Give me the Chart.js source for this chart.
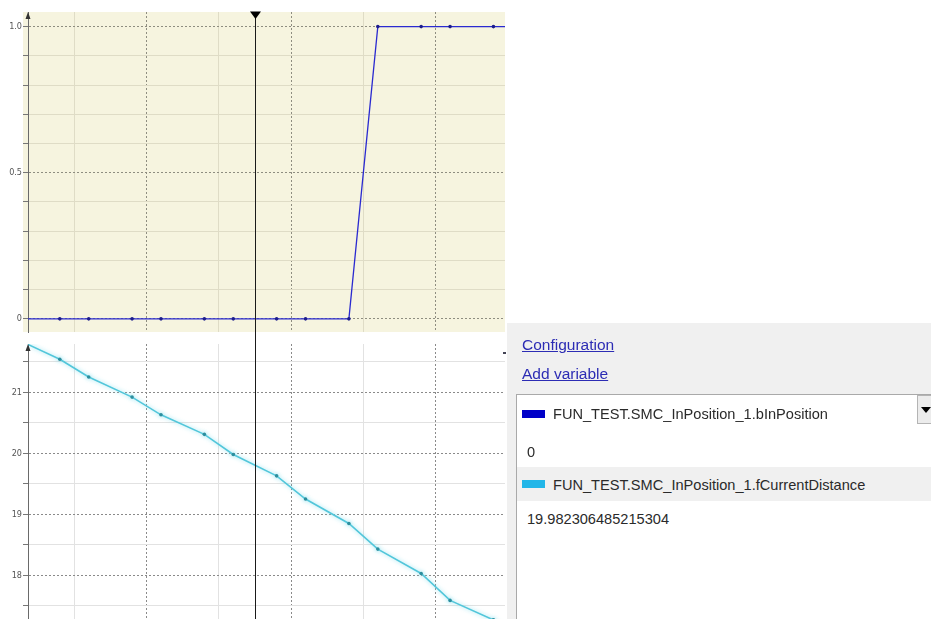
<!DOCTYPE html>
<html>
<head>
<meta charset="utf-8">
<script src="https://cdn.jsdelivr.net/npm/chart.js@4.4.0/dist/chart.umd.min.js"></script>
<style>
  html, body { margin: 0; padding: 0; background: #fff; width: 931px; height: 619px; overflow: hidden; }
  body { font-family: "Liberation Sans", Arial, sans-serif; }
  canvas { position: absolute; left: 0; }
  #topChart { top: 0; }
  #bottomChart { top: 333px; }
  .abs { position: absolute; }
  #panel { left: 507px; top: 323px; width: 424px; height: 296px; background: #f0f0f0; }
  .link { font-size: 15.5px; line-height: 20px; color: #2c2cb4; text-decoration: underline; white-space: nowrap; }
  #list { left: 516px; top: 394px; width: 430px; height: 240px; background: #fff; border: 1px solid #a9a9a9; }
  #rowhl { left: 517px; top: 467px; width: 420px; height: 34px; background: #f0f0f0; }
  .sw { width: 23px; height: 8px; }
  .txt { font-size: 14.6px; line-height: 20px; color: #2a2a2a; white-space: nowrap; }
  #drop { left: 917px; top: 395px; width: 18px; height: 27px; background: #ececec; border: 1px solid #b4b4b4; }
  #dropArrow { left: 921px; top: 407px; width: 0; height: 0; border-left: 5px solid transparent; border-right: 5px solid transparent; border-top: 6px solid #000; }
</style>
</head>
<body>
<canvas id="topChart" width="505" height="333"></canvas>
<canvas id="bottomChart" width="505" height="286"></canvas>

<div id="panel" class="abs"></div>
<div class="abs" style="left:503px;top:352px;width:3px;height:2px;background:#445"></div>
<div class="abs link" style="left:522px;top:335px">Configuration</div>
<div class="abs link" style="left:522px;top:364px">Add variable</div>
<div id="list" class="abs"></div>
<div id="rowhl" class="abs"></div>
<div class="abs sw" style="left:522px;top:410px;background:#0000c8"></div>
<div class="abs txt" style="left:553px;top:404px">FUN_TEST.SMC_InPosition_1.bInPosition</div>
<div class="abs txt" style="left:527px;top:442px">0</div>
<div class="abs sw" style="left:522px;top:480px;background:#22b6e8"></div>
<div class="abs txt" style="left:553px;top:475px">FUN_TEST.SMC_InPosition_1.fCurrentDistance</div>
<div class="abs txt" style="left:527px;top:509px">19.982306485215304</div>
<div id="drop" class="abs"></div>
<div id="dropArrow" class="abs"></div>

<script>
// sample times (ms) and recorded values
const times = [20, 80, 120, 180, 220, 280, 320, 380, 420, 480, 520, 580, 620, 680, 720];
const inPosition = [0, 0, 0, 0, 0, 0, 0, 0, 0, 0, 1, 1, 1, 1, 1];
const currentDistance = [21.87, 21.54, 21.25, 20.92, 20.63, 20.31, 19.98, 19.63, 19.25, 18.85, 18.43, 18.03, 17.59, 17.27, 17.0];

// time grid
const xGrid = [100, 200, 300, 400, 500, 600];
const xMajor = [200, 400, 600];
const cursorTime = 350;

// value grids
const topTicks = [0, 0.1, 0.2, 0.3, 0.4, 0.5, 0.6, 0.7, 0.8, 0.9, 1.0];
const topMajor = [0, 0.5, 1.0];
const topLabels = ["0", "0.5", "1.0"];
const bottomTicks = [17.5, 18, 18.5, 19, 19.5, 20, 20.5, 21, 21.5];
const bottomMajor = [18, 19, 20, 21];
const bottomLabels = ["18", "19", "20", "21"];

const tickFont = { family: "'Liberation Sans Narrow', 'DejaVu Sans Condensed', sans-serif", size: 9 };

function isIn(list, v) {
  return list.some(m => Math.abs(m - v) < 1e-9);
}

const scopePlugin = {
  id: 'scope',
  beforeDraw(chart, args, opts) {
    if (!opts.background) return;
    const a = chart.chartArea, ctx = chart.ctx;
    ctx.save();
    ctx.fillStyle = opts.background;
    ctx.fillRect(a.left - 5, a.top, a.right - a.left + 5, a.bottom - a.top);
    ctx.restore();
  },
  beforeDatasetDraw(chart, args, opts) {
    if (!opts.glow) return;
    chart.ctx.save();
    chart.ctx.shadowColor = opts.glow;
    chart.ctx.shadowBlur = 4;
  },
  afterDatasetDraw(chart, args, opts) {
    if (opts.glow) chart.ctx.restore();
  },
  afterDraw(chart, args, opts) {
    const a = chart.chartArea, ctx = chart.ctx;
    ctx.save();
    // arrow at the top of the value axis
    ctx.fillStyle = '#333';
    ctx.beginPath();
    ctx.moveTo(a.left, a.top);
    ctx.lineTo(a.left - 2.5, a.top + 7);
    ctx.lineTo(a.left + 2.5, a.top + 7);
    ctx.closePath();
    ctx.fill();
    // cursor
    const x = Math.round(chart.scales.x.getPixelForValue(cursorTime)) + 0.5;
    ctx.strokeStyle = '#1a1a1a';
    ctx.lineWidth = 1;
    ctx.beginPath();
    ctx.moveTo(x, opts.marker ? a.top : 0);
    ctx.lineTo(x, chart.height);
    ctx.stroke();
    if (opts.marker) {
      ctx.fillStyle = '#000';
      ctx.beginPath();
      ctx.moveTo(x - 5.5, a.top - 0.5);
      ctx.lineTo(x + 5.5, a.top - 0.5);
      ctx.lineTo(x, a.top + 7);
      ctx.closePath();
      ctx.fill();
    }
    ctx.restore();
  }
};

function makeChart(id, cfg) {
  return new Chart(document.getElementById(id), {
    type: 'line',
    data: {
      datasets: [{
        data: times.map((t, i) => ({ x: t, y: cfg.values[i] })),
        borderColor: cfg.line,
        borderWidth: cfg.lineWidth,
        pointRadius: 1.8,
        pointBackgroundColor: cfg.point,
        pointBorderWidth: 0,
        tension: 0,
        fill: false
      }]
    },
    options: {
      responsive: false,
      animation: false,
      layout: { autoPadding: false, padding: { top: cfg.padTop, bottom: cfg.padBottom, left: 0, right: 0 } },
      plugins: {
        legend: { display: false },
        tooltip: { enabled: false },
        scope: { background: cfg.background, glow: cfg.glow, marker: cfg.marker }
      },
      scales: {
        x: {
          type: 'linear',
          min: 36,
          max: 696,
          afterBuildTicks: s => { s.ticks = xGrid.map(v => ({ value: v })); },
          afterFit: s => { s.height = 0; s.paddingLeft = 0; s.paddingRight = 0; },
          ticks: { display: false },
          grid: {
            drawTicks: false,
            color: c => (c.tick && isIn(xMajor, c.tick.value)) ? cfg.majorGrid : cfg.minorGrid
          },
          border: {
            display: false,
            dash: c => (c.tick && isIn(xMajor, c.tick.value)) ? [2, 2] : []
          }
        },
        y: {
          min: cfg.min,
          max: cfg.max,
          afterBuildTicks: s => { s.ticks = cfg.ticks.map(v => ({ value: v })); },
          afterFit: s => { s.width = 28; s.paddingTop = 0; s.paddingBottom = 0; },
          ticks: {
            autoSkip: false,
            padding: 1,
            color: '#555',
            font: tickFont,
            callback: v => {
              const i = cfg.major.findIndex(m => Math.abs(m - v) < 1e-9);
              return i >= 0 ? cfg.labels[i] : '';
            }
          },
          grid: {
            tickLength: 5,
            tickColor: '#777',
            color: c => (c.tick && isIn(cfg.major, c.tick.value)) ? cfg.majorGrid : cfg.minorGrid
          },
          border: {
            display: true,
            color: '#6a6a6a',
            width: 1,
            dash: c => (c.tick && isIn(cfg.major, c.tick.value)) ? [2, 2] : []
          }
        }
      }
    },
    plugins: [scopePlugin]
  });
}

makeChart('topChart', {
  values: inPosition,
  min: -0.045, max: 1.05,
  ticks: topTicks, major: topMajor, labels: topLabels,
  padTop: 12, padBottom: 1,
  line: '#2a2ad0', lineWidth: 1.3, point: '#1c1c8c',
  background: '#f6f4df', minorGrid: '#dfdcc6', majorGrid: '#8e8d80',
  marker: true
});

makeChart('bottomChart', {
  values: currentDistance,
  min: 17.285, max: 21.79,
  ticks: bottomTicks, major: bottomMajor, labels: bottomLabels,
  padTop: 11, padBottom: 0,
  line: '#52c6da', lineWidth: 1.6, point: '#2c8e9e',
  glow: 'rgba(120,220,236,0.8)', minorGrid: '#e2e2e2', majorGrid: '#8a8a8a',
  marker: false
});
</script>
</body>
</html>
